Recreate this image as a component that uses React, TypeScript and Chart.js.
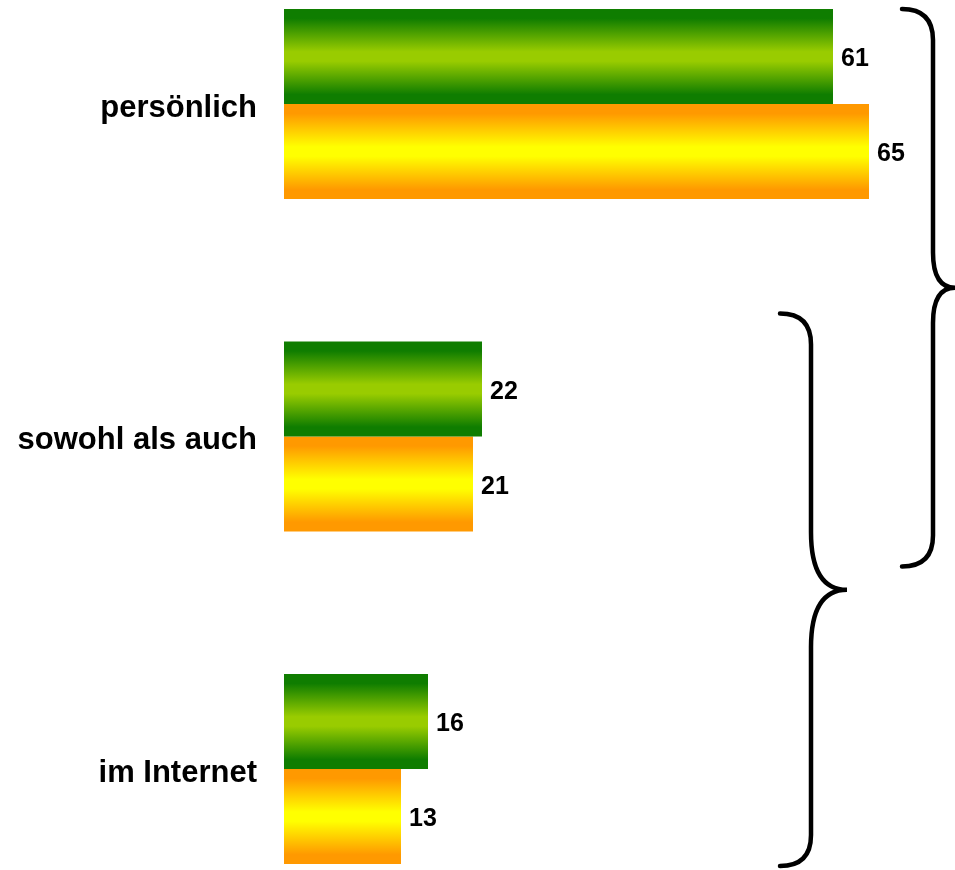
import React, { useEffect, useRef } from "react";
import { Chart, registerables } from "chart.js";

Chart.register(...registerables);

const categories = ["persönlich", "sowohl als auch", "im Internet"];
const seriesGreen = [61, 22, 16];
const seriesOrange = [65, 21, 13];
const seriesNames = ["Reihe 1", "Reihe 2"];

const GREEN = ["#0f7d00", "#99cc00"];
const ORANGE = ["#ff9900", "#ffff00"];
const CAT_PCT = 0.572;
const FONT = "'Liberation Sans', Arial, Helvetica, sans-serif";

function barGradient(c: any, di: number, colors: string[]) {
  const chart = c.chart;
  const ys = chart.scales && chart.scales.y;
  if (!ys || !chart.chartArea) return colors[1];
  const center = ys.getPixelForValue(c.dataIndex);
  const band = Math.abs(ys.getPixelForValue(1) - ys.getPixelForValue(0));
  const barH = (band * CAT_PCT) / 2;
  const top = center - (band * CAT_PCT) / 2 + di * barH;
  const g = chart.ctx.createLinearGradient(0, top, 0, top + barH);
  g.addColorStop(0, colors[0]);
  g.addColorStop(0.1, colors[0]);
  g.addColorStop(0.45, colors[1]);
  g.addColorStop(0.55, colors[1]);
  g.addColorStop(0.9, colors[0]);
  g.addColorStop(1, colors[0]);
  return g;
}

const valueLabels = {
  id: "valueLabels",
  afterDatasetsDraw(chart: any) {
    const ctx = chart.ctx;
    ctx.save();
    ctx.fillStyle = "#000";
    ctx.font = `bold 25px ${FONT}`;
    ctx.textAlign = "left";
    ctx.textBaseline = "middle";
    chart.data.datasets.forEach((ds: any, di: number) => {
      const meta = chart.getDatasetMeta(di);
      meta.data.forEach((el: any, i: number) => {
        ctx.fillText(String(ds.data[i]), el.x + 8, el.y + 3);
      });
    });
    ctx.restore();
  },
};

function drawBrace(ctx: any, xEnd: number, xLine: number, xTip: number, top: number, bottom: number) {
  const mid = (top + bottom) / 2;
  const r = xLine - xEnd;
  const t = xTip - xLine;
  ctx.beginPath();
  ctx.moveTo(xEnd, top);
  ctx.quadraticCurveTo(xLine, top, xLine, top + r);
  ctx.lineTo(xLine, mid - t * 1.6);
  ctx.quadraticCurveTo(xLine, mid, xTip, mid);
  ctx.quadraticCurveTo(xLine, mid, xLine, mid + t * 1.6);
  ctx.lineTo(xLine, bottom - r);
  ctx.quadraticCurveTo(xLine, bottom, xEnd, bottom);
  ctx.stroke();
}

const braces = {
  id: "braces",
  afterDraw(chart: any) {
    const ys = chart.scales.y;
    const y0 = ys.getPixelForValue(0);
    const y1 = ys.getPixelForValue(1);
    const y2 = ys.getPixelForValue(2);
    const ctx = chart.ctx;
    ctx.save();
    ctx.strokeStyle = "#000";
    ctx.lineWidth = 4.5;
    ctx.lineCap = "round";
    drawBrace(ctx, 902, 933, 955, y0 - 95, y1 + 130);
    drawBrace(ctx, 780, 811, 847, y1 - 123, y2 + 97);
    ctx.restore();
  },
};

export default function App() {
  const ref = useRef<HTMLCanvasElement | null>(null);
  useEffect(() => {
    if (!ref.current) return;
    const chart = new Chart(ref.current, {
      type: "bar",
      data: {
        labels: categories,
        datasets: [
          {
            label: seriesNames[0],
            data: seriesGreen,
            backgroundColor: (c: any) => barGradient(c, 0, GREEN),
            borderWidth: 0,
            categoryPercentage: CAT_PCT,
            barPercentage: 1,
            clip: false,
          },
          {
            label: seriesNames[1],
            data: seriesOrange,
            backgroundColor: (c: any) => barGradient(c, 1, ORANGE),
            borderWidth: 0,
            categoryPercentage: CAT_PCT,
            barPercentage: 1,
            clip: false,
          },
        ] as any,
      },
      options: {
        indexAxis: "y",
        animation: false,
        responsive: false,
        maintainAspectRatio: false,
        events: [],
        layout: { padding: { top: 104, bottom: 101, left: 0, right: 41 } },
        plugins: {
          legend: { display: false },
          tooltip: { enabled: false },
          title: { display: false },
        },
        scales: {
          x: {
            min: 0,
            max: 70,
            display: false,
            grid: { display: false },
          },
          y: {
            type: "category",
            offset: false,
            border: { display: false },
            grid: { display: false, drawTicks: false },
            ticks: {
              padding: 27,
              labelOffset: 4,
              color: "#000",
              font: { family: FONT, size: 31, weight: "bold" },
            },
            afterFit(scale: any) {
              scale.width = 284;
            },
          },
        },
      } as any,
      plugins: [valueLabels, braces],
    });
    return () => chart.destroy();
  }, []);
  return (
    <div style={{ position: "fixed", left: 0, top: 0, width: 955, height: 870, background: "#fff" }}>
      <canvas ref={ref} width={955} height={870} style={{ display: "block", width: 955, height: 870 }} />
    </div>
  );
}
